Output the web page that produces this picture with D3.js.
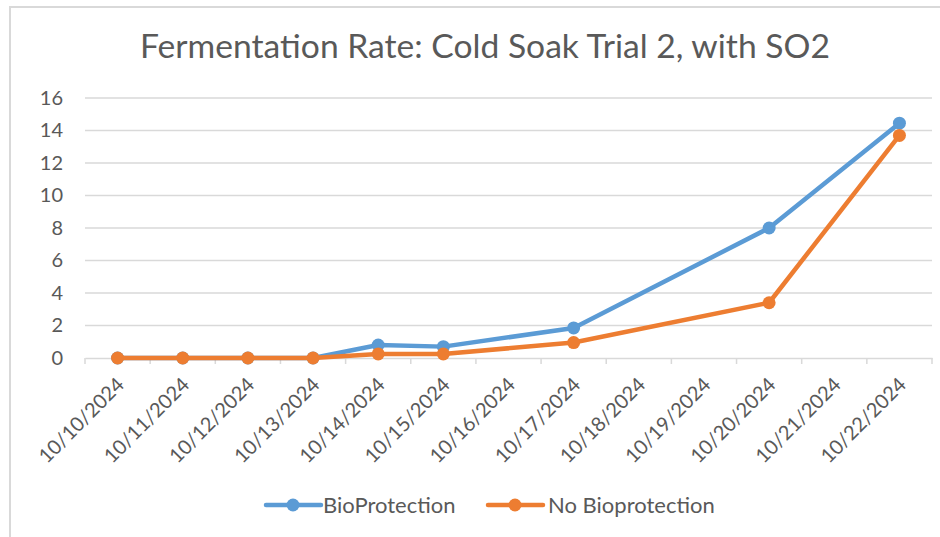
<!DOCTYPE html>
<html>
<head>
<meta charset="utf-8">
<script src="https://cdn.jsdelivr.net/npm/d3@7"></script>
<style>
  body { margin: 0; background: #fff; }
  svg { display: block; }
  text { font-family: Lato, 'Open Sans', sans-serif; fill: #595959; }
</style>
</head>
<body>
<div id="chart"></div>
<script>
const categories = ['10/10/2024', '10/11/2024', '10/12/2024', '10/13/2024', '10/14/2024',
  '10/15/2024', '10/16/2024', '10/17/2024', '10/18/2024', '10/19/2024',
  '10/20/2024', '10/21/2024', '10/22/2024'];
const sampleDates = ['10/10/2024', '10/11/2024', '10/12/2024', '10/13/2024', '10/14/2024',
  '10/15/2024', '10/17/2024', '10/20/2024', '10/22/2024'];
const bioProtection = [0, 0, 0, 0, 0.8, 0.7, 1.85, 8.0, 14.45];
const noBioProtection = [0, 0, 0, 0, 0.25, 0.25, 0.95, 3.4, 13.7];
const yTicks = [0, 2, 4, 6, 8, 10, 12, 14, 16];

const series = [
  { name: 'BioProtection', color: '#5b9bd5', values: bioProtection },
  { name: 'No Bioprotection', color: '#ed7d31', values: noBioProtection },
];

const width = 940;
const height = 537;
const margin = { top: 98, right: 8, bottom: 179, left: 85 };

const svg = d3.select('#chart')
  .append('svg')
  .attr('width', width)
  .attr('height', height);

// chart border (left and top visible)
svg.append('path')
  .attr('d', `M10,${height} V7 H${width}`)
  .attr('fill', 'none')
  .attr('stroke', '#d9d9d9')
  .attr('stroke-width', 2);

svg.append('text')
  .attr('x', 485)
  .attr('y', 58)
  .attr('text-anchor', 'middle')
  .attr('textLength', 690)
  .attr('lengthAdjust', 'spacingAndGlyphs')
  .style('font-size', '32px')
  .text('Fermentation Rate: Cold Soak Trial 2, with SO2');

const xScale = d3.scaleBand()
  .domain(categories)
  .range([margin.left, width - margin.right]);

const yScale = d3.scaleLinear()
  .domain([0, 16])
  .range([height - margin.bottom, margin.top]);

// gridlines
svg.append('g')
  .selectAll('line')
  .data(yTicks.filter(d => d > 0))
  .join('line')
  .attr('x1', margin.left)
  .attr('x2', width - margin.right)
  .attr('y1', d => yScale(d))
  .attr('y2', d => yScale(d))
  .attr('stroke', '#d9d9d9')
  .attr('stroke-width', 1.5);

// y labels
const yAxis = d3.axisLeft(yScale).tickValues(yTicks).tickSize(0).tickPadding(22);
const yG = svg.append('g')
  .attr('transform', `translate(${margin.left},0)`)
  .call(yAxis);
yG.select('.domain').remove();
yG.selectAll('text').style('font-size', '20px').attr('fill', '#595959');

// x axis
const xAxis = d3.axisBottom(xScale).tickSize(0).tickSizeOuter(0);
const xG = svg.append('g')
  .attr('transform', `translate(0,${yScale(0)})`)
  .call(xAxis);
xG.select('.domain').attr('stroke', '#d9d9d9').attr('stroke-width', 1.5);
xG.selectAll('.tick line').remove();
xG.selectAll('.tick text')
  .style('font-size', '20px')
  .attr('fill', '#595959')
  .attr('text-anchor', 'end')
  .attr('x', 0)
  .attr('y', 0)
  .attr('dy', '0.35em')
  .attr('transform', 'translate(3,23) rotate(-45)');

// tick marks on band edges
const edges = categories.map(c => xScale(c)).concat([xScale.range()[1]]);
xG.append('g')
  .selectAll('line')
  .data(edges)
  .join('line')
  .attr('x1', d => d)
  .attr('x2', d => d)
  .attr('y1', 0)
  .attr('y2', 6)
  .attr('stroke', '#d9d9d9')
  .attr('stroke-width', 1.5);

const cx = d => xScale(d) + xScale.bandwidth() / 2;

const line = d3.line()
  .x(d => cx(d.date))
  .y(d => yScale(d.value));

series.forEach(s => {
  const pts = sampleDates.map((date, i) => ({ date, value: s.values[i] }));
  const g = svg.append('g');
  g.append('path')
    .datum(pts)
    .attr('d', line)
    .attr('fill', 'none')
    .attr('stroke', s.color)
    .attr('stroke-width', 4.5)
    .attr('stroke-linejoin', 'round')
    .attr('stroke-linecap', 'round');
  g.selectAll('circle')
    .data(pts)
    .join('circle')
    .attr('cx', d => cx(d.date))
    .attr('cy', d => yScale(d.value))
    .attr('r', 6.5)
    .attr('fill', s.color);
});

// legend
const legendItems = [
  { x: 266, textX: 323 },
  { x: 488, textX: 548 },
];
const legend = svg.append('g');
series.forEach((s, i) => {
  const it = legendItems[i];
  legend.append('line')
    .attr('x1', it.x).attr('x2', it.x + 55)
    .attr('y1', 505).attr('y2', 505)
    .attr('stroke', s.color)
    .attr('stroke-width', 4.5)
    .attr('stroke-linecap', 'round');
  legend.append('circle')
    .attr('cx', it.x + 27).attr('cy', 505).attr('r', 6.5)
    .attr('fill', s.color);
  legend.append('text')
    .attr('x', it.textX).attr('y', 505)
    .attr('dy', '0.35em')
    .style('font-size', '22px')
    .text(s.name);
});
</script>
</body>
</html>
